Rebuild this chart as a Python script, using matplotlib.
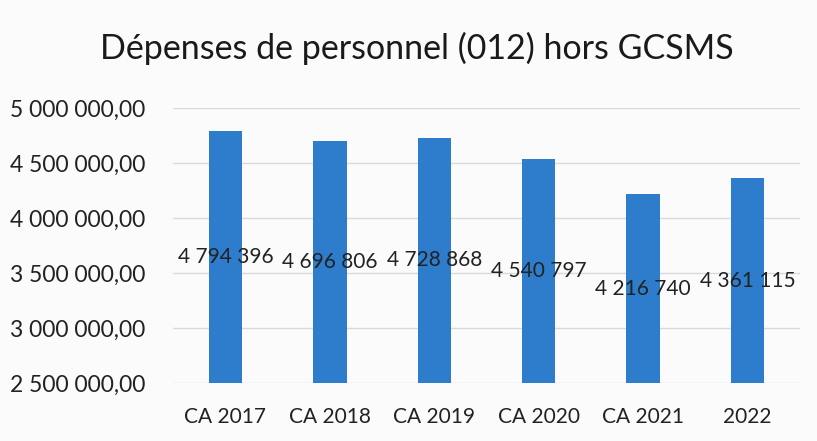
import matplotlib.pyplot as plt
from matplotlib.ticker import FuncFormatter

categories = ['CA 2017', 'CA 2018', 'CA 2019', 'CA 2020', 'CA 2021', '2022']
depenses = [4794396, 4696806, 4728868, 4540797, 4216740, 4361115]
y_ticks = [2500000, 3000000, 3500000, 4000000, 4500000, 5000000]

plt.rcParams['font.family'] = ['Lato', 'DejaVu Sans']


def fr_number(v, decimals=0):
    s = '{:,.{}f}'.format(v, decimals)
    return s.replace(',', ' ').replace('.', ',')


fig = plt.figure(figsize=(8.17, 4.41), dpi=100)
fig.patch.set_facecolor('#fbfbfb')
ax = fig.add_axes([0.212, 0.1315, 0.767, 0.6235])
ax.set_facecolor('#fbfbfb')

x = range(len(categories))
bars = ax.bar(x, depenses, width=0.32, color='#2d7dcc', zorder=3)

ax.set_ylim(2500000, 5000000)
ax.set_xlim(-0.5, len(categories) - 0.5)
ax.set_yticks(y_ticks)
ax.yaxis.set_major_formatter(FuncFormatter(lambda v, p: fr_number(v, 2)))
ax.set_xticks(list(x))
ax.set_xticklabels(categories)
ax.tick_params(axis='both', length=0, colors='#222222')
ax.tick_params(axis='y', pad=20, labelsize=16.5)
ax.tick_params(axis='x', pad=17, labelsize=15)
ax.grid(axis='y', color='#d9d9d9', linewidth=1, zorder=0)
for side in ax.spines.values():
    side.set_visible(False)

for b, v in zip(bars, depenses):
    ax.text(b.get_x() + b.get_width() / 2, (2500000 + v) / 2, fr_number(v),
            ha='center', va='center', fontsize=15, color='#222222', zorder=4)

fig.text(0.51, 0.89, 'Dépenses de personnel (012) hors GCSMS', ha='center',
         va='center', fontsize=24.5, color='#1a1a1a')

fig.savefig('out.png', dpi=100, facecolor=fig.get_facecolor())
